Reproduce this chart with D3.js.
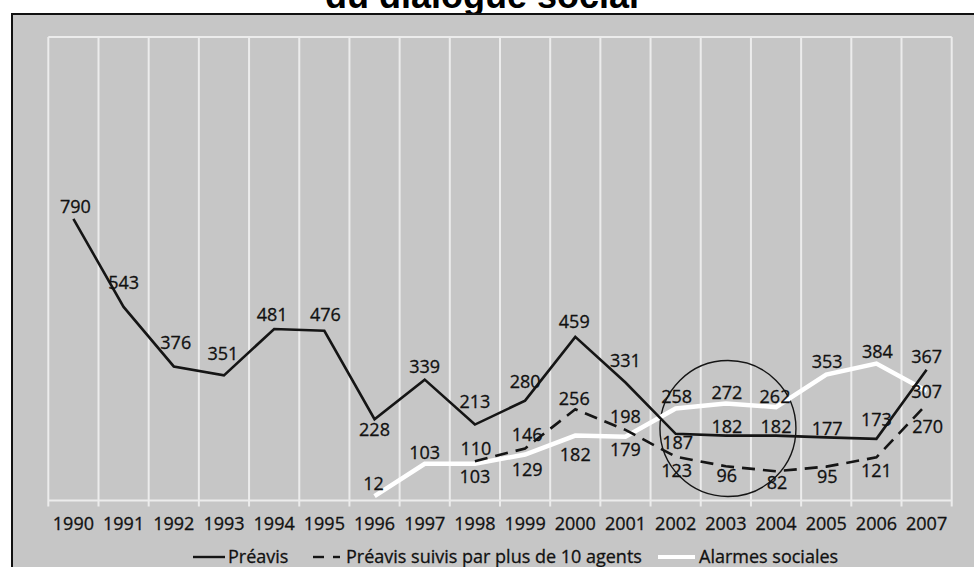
<!DOCTYPE html>
<html>
<head>
<meta charset="utf-8">
<script src="https://cdn.jsdelivr.net/npm/d3@7/dist/d3.min.js"></script>
<style>
  html, body { margin: 0; padding: 0; background: #ffffff; }
  svg { display: block; }
  .lbl { font-family: "Open Sans", "Noto Sans", sans-serif; font-size: 18px; fill: #111; stroke: #111; stroke-width: 0.3px; }
</style>
</head>
<body>
<svg id="chart" width="974" height="567"></svg>
<script>
// Years on the x axis
const years = ["1990","1991","1992","1993","1994","1995","1996","1997","1998",
               "1999","2000","2001","2002","2003","2004","2005","2006","2007"];

// Préavis (solid black line)
const preavis = [790, 543, 376, 351, 481, 476, 228, 339, 213, 280, 459, 331, 187, 182, 182, 177, 173, 367];

// Préavis suivis par plus de 10 agents (dashed line), from 1998
const preavisPlus10 = [null, null, null, null, null, null, null, null, 110, 146, 256, 198, 123, 96, 82, 95, 121, 270];

// Alarmes sociales (white line), from 1996
const alarmes = [null, null, null, null, null, null, 12, 103, 103, 129, 182, 179, 258, 272, 262, 353, 384, 307];

const legendLabels = ["Préavis", "Préavis suivis par plus de 10 agents", "Alarmes sociales"];
const titleText = "du dialogue social";

// Label placement (offset of each value label from its point, in px)
const preavisLabelOffsets = [[2,-12],[0,-24],[2,-24],[-1,-22],[-2,-14],[1,-16],[0,10],[0,-13],[0,-23],[0,-19],[-1,-15],[0,-22],[2,9],[1,-9],[0,-9],[1,-9],[0,-19],[0,-13]];
const plus10LabelOffsets = [null,null,null,null,null,null,null,null,[1,-13],[2,-14],[-1,-11],[0,-13],[1,14],[1,9],[1,11],[1,10],[0,13],[1,22]];
const alarmesLabelOffsets = [null,null,null,null,null,null,[-1,-13],[0,-11],[0,13],[2,15],[0,19],[0,13],[1,-12],[1,-11],[-1,-10],[1,-13],[1,-12],[0,1]];

const svg = d3.select("#chart");

// Title (partially cut off by the top edge)
svg.append("text")
  .attr("x", 482).attr("y", 8)
  .attr("text-anchor", "middle")
  .style("font-family", "'Liberation Sans', Arial, sans-serif")
  .style("font-weight", "bold")
  .style("font-size", "36px")
  .attr("fill", "#000")
  .text(titleText);

// Grey panel with black top/left border
svg.append("rect")
  .attr("x", 12).attr("y", 14).attr("width", 974 - 12).attr("height", 567 - 14)
  .attr("fill", "#c6c6c6");
svg.append("path")
  .attr("d", "M12,567 L12,14 L974,14")
  .attr("fill", "none").attr("stroke", "#111").attr("stroke-width", 2);

// Scales
const x = d3.scaleBand().domain(years).range([48.3, 951.7]).padding(0);
const y = d3.scaleLinear().domain([0, 1300]).range([500.5, 37]);
const cx = d => x(d) + x.bandwidth() / 2;

const gridColor = "#ececec";

// Vertical grid lines at band edges
const edges = years.map(d => x(d)).concat([x(years[years.length - 1]) + x.bandwidth()]);
svg.append("g").selectAll("line").data(edges).join("line")
  .attr("x1", d => d).attr("x2", d => d)
  .attr("y1", y(1300)).attr("y2", y(0) + 6)
  .attr("stroke", gridColor).attr("stroke-width", 2);

// Top and bottom horizontal lines
svg.append("g").selectAll("line").data([1300, 0]).join("line")
  .attr("x1", edges[0]).attr("x2", edges[edges.length - 1])
  .attr("y1", d => y(d)).attr("y2", d => y(d))
  .attr("stroke", gridColor).attr("stroke-width", 2);

// X axis labels
const xAxis = d3.axisBottom(x).tickSize(0).tickPadding(0);
const gx = svg.append("g").attr("transform", `translate(0,${y(0)})`).call(xAxis);
gx.select(".domain").remove();
gx.selectAll("text")
  .attr("class", "lbl")
  .attr("y", 29)
  .attr("dy", 0)
  .style("font-family", "'Open Sans', 'Noto Sans', sans-serif")
  .style("font-size", "18px")
  .attr("fill", "#111");

// Highlight circle around 2003-2004
svg.append("circle")
  .attr("cx", (cx("2003") + cx("2004")) / 2 - 23)
  .attr("cy", y(0) - 72)
  .attr("r", 68)
  .attr("fill", "none").attr("stroke", "#151515").attr("stroke-width", 1.4);

const series = [
  { values: alarmes, offsets: alarmesLabelOffsets, stroke: "#ffffff", width: 4.5, dash: null },
  { values: preavisPlus10, offsets: plus10LabelOffsets, stroke: "#151515", width: 2.6, dash: "13,8" },
  { values: preavis, offsets: preavisLabelOffsets, stroke: "#151515", width: 2.6, dash: null }
];

const line = d3.line()
  .defined(d => d.v !== null)
  .x(d => cx(d.year))
  .y(d => y(d.v));

series.forEach(s => {
  const pts = years.map((yr, i) => ({ year: yr, v: s.values[i] }));
  svg.append("path")
    .datum(pts)
    .attr("d", line)
    .attr("fill", "none")
    .attr("stroke", s.stroke)
    .attr("stroke-width", s.width)
    .attr("stroke-linejoin", "miter")
    .attr("stroke-dasharray", s.dash);
});

// Value labels
series.forEach(s => {
  const pts = years.map((yr, i) => ({ year: yr, v: s.values[i], o: s.offsets[i] }))
    .filter(d => d.v !== null);
  svg.append("g").selectAll("text").data(pts).join("text")
    .attr("class", "lbl")
    .attr("text-anchor", "middle")
    .attr("x", d => cx(d.year) + d.o[0])
    .attr("y", d => y(d.v) + d.o[1] + 6.4)
    .text(d => d.v);
});

// Legend
const ly = 557;
const lg = svg.append("g");
lg.append("line").attr("x1", 193).attr("x2", 225).attr("y1", ly).attr("y2", ly)
  .attr("stroke", "#151515").attr("stroke-width", 2.4);
lg.append("text").attr("class", "lbl").attr("x", 228).attr("y", ly + 6.4).text(legendLabels[0]);
lg.append("line").attr("x1", 313).attr("x2", 324).attr("y1", ly).attr("y2", ly)
  .attr("stroke", "#151515").attr("stroke-width", 2.4);
lg.append("line").attr("x1", 333).attr("x2", 340).attr("y1", ly).attr("y2", ly)
  .attr("stroke", "#151515").attr("stroke-width", 2.4);
lg.append("text").attr("class", "lbl").attr("x", 346).attr("y", ly + 6.4).text(legendLabels[1]);
lg.append("line").attr("x1", 658).attr("x2", 695).attr("y1", ly).attr("y2", ly)
  .attr("stroke", "#ffffff").attr("stroke-width", 4);
lg.append("text").attr("class", "lbl").attr("x", 699).attr("y", ly + 6.4).text(legendLabels[2]);
</script>
</body>
</html>
